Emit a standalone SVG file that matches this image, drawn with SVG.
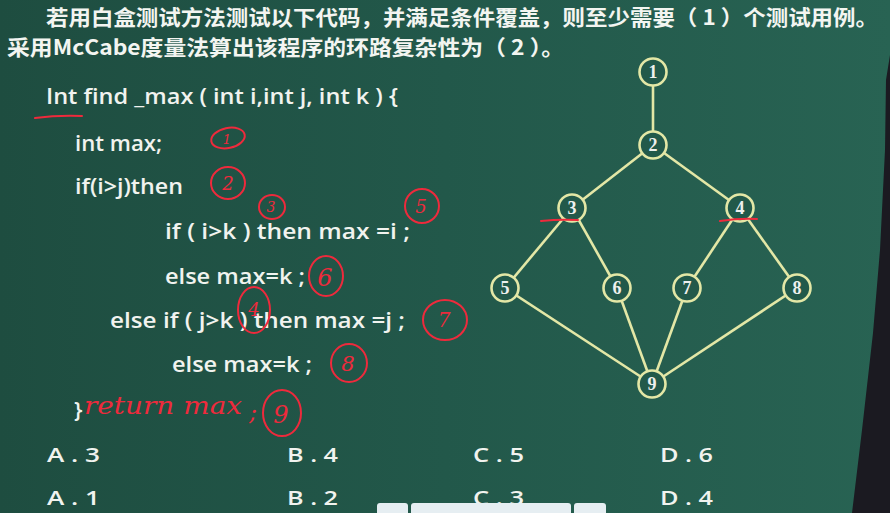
<svg xmlns="http://www.w3.org/2000/svg" width="890" height="513" viewBox="0 0 890 513">
<defs>
<linearGradient id="bg" x1="0" y1="0" x2="1" y2="0">
<stop offset="0" stop-color="#1e4d40"/>
<stop offset="0.5" stop-color="#22584a"/>
<stop offset="1" stop-color="#286353"/>
</linearGradient>
<style>
.cn{font-family:"Noto Sans CJK SC","Noto Sans",sans-serif;font-weight:bold;font-size:21px;fill:#f3f5f1}
.code{font-family:"Open Sans","Noto Sans",sans-serif;font-weight:600;font-size:22px;fill:#f1f3ef}
.ans{font-family:"Open Sans","Noto Sans",sans-serif;font-weight:600;font-size:20px;fill:#f1f3ef}
.edge{stroke:#e3e7a6;stroke-width:2.6;fill:none}
.node circle{fill:#22594a;stroke:#e3e7a6;stroke-width:2.6}
.node text{font-family:"Liberation Serif",serif;font-weight:bold;font-size:18px;fill:#eef0ee;text-anchor:middle}
.red{stroke:#ee2a3c;stroke-width:2;fill:none;stroke-linecap:round}
.hw{font-family:"DejaVu Serif",serif;font-style:italic;fill:#ee2a3c;text-anchor:middle}
</style>
</defs>
<rect width="890" height="513" fill="url(#bg)"/>
<polygon points="890,55 886,80 885,150 880,250 873,333 862,430 852,513 890,513" fill="#1b1a21"/>

<text class="cn" x="46" y="25" textLength="832" lengthAdjust="spacingAndGlyphs">若用白盒测试方法测试以下代码，并满足条件覆盖，则至少需要（ 1 ）个测试用例。</text>
<text class="cn" x="7" y="55" textLength="557" lengthAdjust="spacingAndGlyphs">采用McCabe度量法算出该程序的环路复杂性为（ 2 ）。</text>

<text class="code" x="46" y="104" textLength="352" lengthAdjust="spacingAndGlyphs">Int find _max ( int i,int j, int k ) {</text>
<text class="code" x="75" y="151" textLength="87" lengthAdjust="spacingAndGlyphs">int max;</text>
<text class="code" x="75" y="194" textLength="108" lengthAdjust="spacingAndGlyphs">if(i&gt;j)then</text>
<text class="code" x="165" y="239" textLength="245" lengthAdjust="spacingAndGlyphs">if ( i&gt;k ) then max =i ;</text>
<text class="code" x="165" y="284" textLength="140" lengthAdjust="spacingAndGlyphs">else max=k ;</text>
<text class="code" x="110" y="328" textLength="295" lengthAdjust="spacingAndGlyphs">else if ( j&gt;k ) then max =j ;</text>
<text class="code" x="172" y="372" textLength="140" lengthAdjust="spacingAndGlyphs">else max=k ;</text>
<text class="code" x="74" y="418">}</text>

<text class="ans" x="47" y="462" textLength="53" lengthAdjust="spacingAndGlyphs">A . 3</text>
<text class="ans" x="287" y="462" textLength="51" lengthAdjust="spacingAndGlyphs">B . 4</text>
<text class="ans" x="473" y="462" textLength="51" lengthAdjust="spacingAndGlyphs">C . 5</text>
<text class="ans" x="660" y="462" textLength="53" lengthAdjust="spacingAndGlyphs">D . 6</text>
<text class="ans" x="47" y="505" textLength="53" lengthAdjust="spacingAndGlyphs">A . 1</text>
<text class="ans" x="287" y="505" textLength="51" lengthAdjust="spacingAndGlyphs">B . 2</text>
<text class="ans" x="473" y="505" textLength="51" lengthAdjust="spacingAndGlyphs">C . 3</text>
<text class="ans" x="660" y="505" textLength="53" lengthAdjust="spacingAndGlyphs">D . 4</text>

<g fill="#e6eef2">
<path d="M377,513 V506 q0,-3 3,-3 H405 q3,0 3,3 V513 Z"/>
<path d="M411,513 V506 q0,-3 3,-3 H568 q3,0 3,3 V513 Z"/>
<path d="M574,513 V506 q0,-3 3,-3 H603 q3,0 3,3 V513 Z"/>
</g>

<g id="edges">
<line class="edge" x1="653" y1="72" x2="653" y2="145"/>
<line class="edge" x1="653" y1="145" x2="572" y2="208"/>
<line class="edge" x1="653" y1="145" x2="740" y2="208"/>
<line class="edge" x1="572" y1="208" x2="505" y2="288"/>
<line class="edge" x1="572" y1="208" x2="617" y2="288"/>
<line class="edge" x1="740" y1="208" x2="687" y2="288"/>
<line class="edge" x1="740" y1="208" x2="797" y2="288"/>
<line class="edge" x1="505" y1="288" x2="652" y2="384"/>
<line class="edge" x1="617" y1="288" x2="652" y2="384"/>
<line class="edge" x1="687" y1="288" x2="652" y2="384"/>
<line class="edge" x1="797" y1="288" x2="652" y2="384"/>
</g>

<g id="n1" class="node"><circle cx="653" cy="72" r="13.5"/><text x="653" y="78">1</text></g>
<g id="n2" class="node"><circle cx="653" cy="145" r="13.5"/><text x="653" y="151">2</text></g>
<g id="n3" class="node"><circle cx="572" cy="208" r="13.5"/><text x="572" y="214">3</text></g>
<g id="n4" class="node"><circle cx="740" cy="208" r="13.5"/><text x="740" y="214">4</text></g>
<g id="n5" class="node"><circle cx="505" cy="288" r="13.5"/><text x="505" y="294">5</text></g>
<g id="n6" class="node"><circle cx="617" cy="288" r="13.5"/><text x="617" y="294">6</text></g>
<g id="n7" class="node"><circle cx="687" cy="288" r="13.5"/><text x="687" y="294">7</text></g>
<g id="n8" class="node"><circle cx="797" cy="288" r="13.5"/><text x="797" y="294">8</text></g>
<g id="n9" class="node"><circle cx="652" cy="384" r="13.5"/><text x="652" y="390">9</text></g>

<g id="annotations">
<path class="red" d="M35,118 Q58,115 82,116" stroke-width="2.5"/>
<path class="red" d="M541,221 Q560,219 578,220" stroke-width="2.8"/>
<path class="red" d="M720,221 Q740,218 757,219" stroke-width="2.8"/>

<ellipse class="red" cx="228" cy="138" rx="17" ry="10" transform="rotate(-12 228 138)"/>
<text class="hw" x="227" y="144" font-size="13">1</text>
<ellipse class="red" cx="228" cy="183" rx="17" ry="16"/>
<text class="hw" x="228" y="190" font-size="18">2</text>
<ellipse class="red" cx="272" cy="207" rx="13" ry="12"/>
<text class="hw" x="271" y="212" font-size="14">3</text>
<ellipse class="red" cx="422" cy="206" rx="17" ry="17"/>
<text class="hw" x="421" y="213" font-size="18">5</text>
<ellipse class="red" cx="326" cy="276" rx="17" ry="20"/>
<text class="hw" x="325" y="286" font-size="24">6</text>
<ellipse class="red" cx="254" cy="310" rx="16" ry="23"/>
<text class="hw" x="254" y="316" font-size="18">4</text>
<ellipse class="red" cx="445" cy="320" rx="22" ry="20"/>
<text class="hw" x="444" y="327" font-size="20">7</text>
<ellipse class="red" cx="349" cy="363" rx="18" ry="19"/>
<text class="hw" x="348" y="371" font-size="21">8</text>
<ellipse class="red" cx="282" cy="413" rx="19" ry="23"/>
<text class="hw" x="281" y="423" font-size="24">9</text>
<text class="hw" x="163" y="414" font-size="24" textLength="158" lengthAdjust="spacingAndGlyphs">return max</text>
<text class="hw" x="253" y="420" font-size="24">;</text>
</g>
</svg>
